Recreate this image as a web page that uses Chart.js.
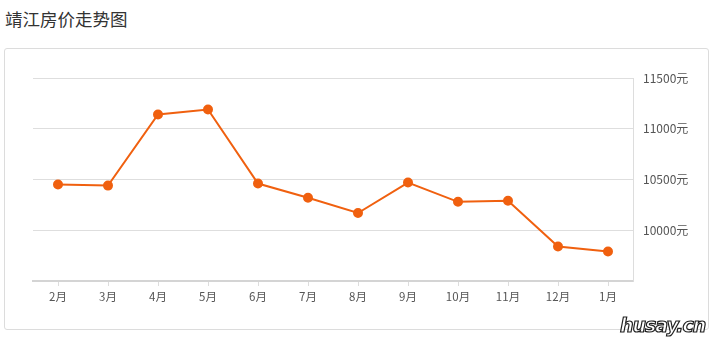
<!DOCTYPE html>
<html>
<head>
<meta charset="utf-8">
<script src="https://cdn.jsdelivr.net/npm/chart.js@4/dist/chart.umd.min.js"></script>
<style>
    body { margin: 0; background: #fff; width: 712px; height: 347px; position: relative; overflow: hidden; font-family: "Noto Sans CJK SC", sans-serif; }
    .title { position: absolute; left: 5px; top: 6px; font-size: 17.5px; color: #333; }
    .box { position: absolute; left: 4px; top: 48px; width: 703px; height: 280px; border: 1px solid #dcdcdc; border-radius: 3px; }
    .box canvas { position: absolute; left: 0; top: 0; }
    .mark { position: absolute; left: 620px; top: 314px; font: italic bold 19px "DejaVu Sans", sans-serif; color: #fff; -webkit-text-stroke: 1.2px #222; letter-spacing: -1px; }
</style>
</head>
<body>
<div class="title">靖江房价走势图</div>
<div class="box"><canvas id="priceChart" width="703" height="280"></canvas></div>
<div class="mark">husay.cn</div>
<script>
        // Data
        const months = ['2月', '3月', '4月', '5月', '6月', '7月', '8月', '9月', '10月', '11月', '12月', '1月'];
        const prices = [10450, 10440, 11140, 11190, 10460, 10320, 10170, 10470, 10280, 10290, 9840, 9790];
        const yMin = 9500;
        const yMax = 11500;
        const yStep = 500;

        const ctx = document.getElementById('priceChart').getContext('2d');
        new Chart(ctx, {
            type: 'line',
            data: {
                labels: months,
                datasets: [{
                    label: '房价',
                    data: prices,
                    borderColor: '#f0600f',
                    backgroundColor: '#f0600f',
                    borderWidth: 2,
                    pointRadius: 4,
                    pointHoverRadius: 4,
                    tension: 0,
                    fill: false
                }]
            },
            options: {
                responsive: false,
                animation: false,
                layout: { padding: { left: 28, top: 29, right: 0, bottom: 0 } },
                plugins: {
                    legend: { display: false },
                    tooltip: { enabled: false }
                },
                scales: {
                    x: {
                        offset: true,
                        grid: { display: true, drawOnChartArea: false, drawTicks: true, tickLength: 5, color: '#dddddd' },
                        border: { color: '#d4d4d4', width: 2 },
                        ticks: { color: '#555', font: { size: 11.5, family: '"Noto Sans CJK SC"' }, padding: 4, maxRotation: 0 },
                        afterFit: s => { s.height = 48; }
                    },
                    y: {
                        position: 'right',
                        min: yMin,
                        max: yMax,
                        grid: { color: '#dedede', drawTicks: false },
                        border: { color: '#dddddd', width: 1 },
                        ticks: {
                            stepSize: yStep,
                            color: '#555',
                            padding: 10,
                            font: { size: 12, family: '"Noto Sans CJK SC"' },
                            callback: v => v === yMin ? null : v + '元'
                        },
                        afterFit: s => { s.width = 75; }
                    }
                }
            }
        });
</script>
</body>
</html>
